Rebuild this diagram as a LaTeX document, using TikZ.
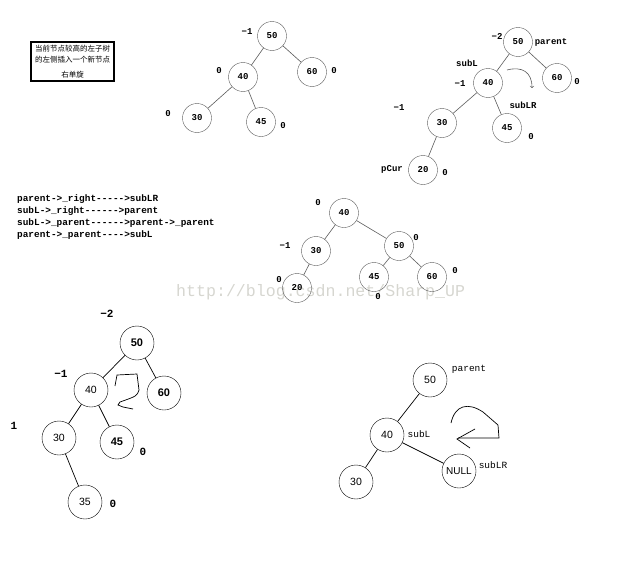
\documentclass[tikz,border=0pt]{standalone}
\usepackage{fontspec}
\setmainfont{Liberation Sans}
\newfontfamily\simfont{Liberation Mono}
\newfontfamily\cjkfont{Noto Sans CJK SC}
\definecolor{wmark}{RGB}{214,214,208}
\definecolor{thin}{RGB}{90,90,90}

\begin{document}
\begin{tikzpicture}[x=1pt,y=-1pt,
	small/.style={draw=thin, circle, minimum size=29pt, inner sep=0pt, font=\simfont\bfseries\fontsize{9}{9}\selectfont},
	big/.style={draw, circle, minimum size=34pt, inner sep=0pt, font=\fontsize{10.5}{10.5}\selectfont},
	bal/.style={inner sep=0pt, font=\simfont\bfseries\fontsize{9}{9}\selectfont},
	balbig/.style={inner sep=0pt, font=\simfont\bfseries\fontsize{11}{11}\selectfont},
	ptr/.style={inner sep=0pt, font=\simfont\fontsize{9.5}{9.5}\selectfont},
	code/.style={anchor=west, inner sep=0pt, font=\simfont\bfseries\fontsize{9.4}{9.4}\selectfont},
	link/.style={draw=thin, line width=0.6pt},
	blink/.style={draw, line width=0.7pt}]
	\useasboundingbox (0,0) rectangle (627,562);
	\node[anchor=west, inner sep=0pt, text=wmark, font=\simfont\fontsize{16.6}{16.6}\selectfont] at (176,292) (mark) {http://blog.csdn.net/Sharp\_UP};

	\node[draw, line width=2pt, minimum width=83pt, minimum height=39pt, align=center, inner sep=0pt, font=\cjkfont\fontsize{7.5}{11}\selectfont] at (72.5,61.5) (hint) {当前节点较高的左子树\\的左侧插入一个新节点\\[4pt]右单旋};

	\node[small] at (272,36) (a50) {50};
	\node[small] at (243,77) (a40) {40};
	\node[small] at (312,72) (a60) {60};
	\node[small] at (197,118) (a30) {30};
	\node[small] at (261,122) (a45) {45};
	\node[bal] at (247,32) (a50bf) {−1};
	\node[bal] at (219,71) (a40bf) {0};
	\node[bal] at (334,71) (a60bf) {0};
	\node[bal] at (168,114) (a30bf) {0};
	\node[bal] at (283,126) (a45bf) {0};

	\node[small] at (518,42) (b50) {50};
	\node[small] at (488,83) (b40) {40};
	\node[small] at (557,78) (b60) {60};
	\node[small] at (442,123) (b30) {30};
	\node[small] at (507,128) (b45) {45};
	\node[small] at (423,170) (b20) {20};
	\node[bal] at (497,36) (b50bf) {−2};
	\node[bal] at (460,84) (b40bf) {−1};
	\node[bal] at (577,82) (b60bf) {0};
	\node[bal] at (399,108) (b30bf) {−1};
	\node[bal] at (531,137) (b45bf) {0};
	\node[bal] at (445,173) (b20bf) {0};
	\node[bal] at (551,42) (bparent) {parent};
	\node[bal] at (467,63) (bsubl) {subL};
	\node[bal] at (523,105) (bsublr) {subLR};
	\node[bal] at (392,169) (bpcur) {pCur};
	\coordinate (bturn) at (507,70);
	\coordinate (bturnend) at (532,88);

	\node[code] at (17,199) (line1) {parent->\_right----->subLR};
	\node[code] at (17,211) (line2) {subL->\_right------>parent};
	\node[code] at (17,223) (line3) {subL->\_parent------>parent->\_parent};
	\node[code] at (17,235) (line4) {parent->\_parent---->subL};

	\node[small] at (344,213) (c40) {40};
	\node[small] at (316,251) (c30) {30};
	\node[small] at (399,246) (c50) {50};
	\node[small] at (297,288) (c20) {20};
	\node[small] at (374,277) (c45) {45};
	\node[small] at (432,277) (c60) {60};
	\node[bal] at (318,203) (c40bf) {0};
	\node[bal] at (285,246) (c30bf) {−1};
	\node[bal] at (416,238) (c50bf) {0};
	\node[bal] at (279,280) (c20bf) {0};
	\node[bal] at (378,297) (c45bf) {0};
	\node[bal] at (455,271) (c60bf) {0};

	\node[big, font=\bfseries\fontsize{11}{11}\selectfont] at (137,343) (d50) {50};
	\node[big] at (91,390) (d40) {40};
	\node[big, font=\bfseries\fontsize{11}{11}\selectfont] at (164,393) (d60) {60};
	\node[big] at (59,438) (d30) {30};
	\node[big, font=\bfseries\fontsize{11}{11}\selectfont] at (117,442) (d45) {45};
	\node[big] at (85,502) (d35) {35};
	\node[balbig] at (107,314) (d50bf) {−2};
	\node[balbig] at (61,374) (d40bf) {−1};
	\node[balbig] at (14,426) (d30bf) {1};
	\node[balbig] at (143,452) (d45bf) {0};
	\node[balbig] at (113,504) (d35bf) {0};

	\node[big] at (430,380) (e50) {50};
	\node[big] at (387,435) (e40) {40};
	\node[big] at (356,482) (e30) {30};
	\node[big, font=\fontsize{10}{10}\selectfont] at (459,471) (enull) {NULL};
	\node[ptr] at (469,369) (eparent) {parent};
	\node[ptr] at (419,434) (esubl) {subL};
	\node[ptr] at (493,465) (esublr) {subLR};


	\draw [link] (a50) -- (a40);
	\draw [link] (a50) -- (a60);
	\draw [link] (a40) -- (a30);
	\draw [link] (a40) -- (a45);
	\draw [link] (b50) -- (b40);
	\draw [link] (b50) -- (b60);
	\draw [link] (b40) -- (b30);
	\draw [link] (b40) -- (b45);
	\draw [link] (b30) -- (b20);
	\draw [link, ->] (bturn) .. controls (522,66) and (532,72) .. (bturnend);
	\draw [link] (c40) -- (c30);
	\draw [link] (c40) -- (c50);
	\draw [link] (c30) -- (c20);
	\draw [link] (c50) -- (c45);
	\draw [link] (c50) -- (c60);
	\draw [blink] (d50) -- (d40);
	\draw [blink] (d50) -- (d60);
	\draw [blink] (d40) -- (d30);
	\draw [blink] (d40) -- (d45);
	\draw [blink] (d30) -- (d35);
	\draw [blink] (e50) -- (e40);
	\draw [blink] (e40) -- (e30);
	\draw [blink] (e40) -- (enull);

	\draw [blink] (115,386) -- (117,375) -- (137,374) -- (139,390) .. controls (137,396) .. (120,402) -- (118,405) -- (123,407) -- (133,409);
	\draw [blink] (451,423) .. controls (455,405) and (468,402) .. (483,412) -- (498,425) -- (499,438) -- (458,438);
	\draw [blink] (475,429) -- (457,439) -- (470,448);
	
	\end{tikzpicture}
\end{document}
